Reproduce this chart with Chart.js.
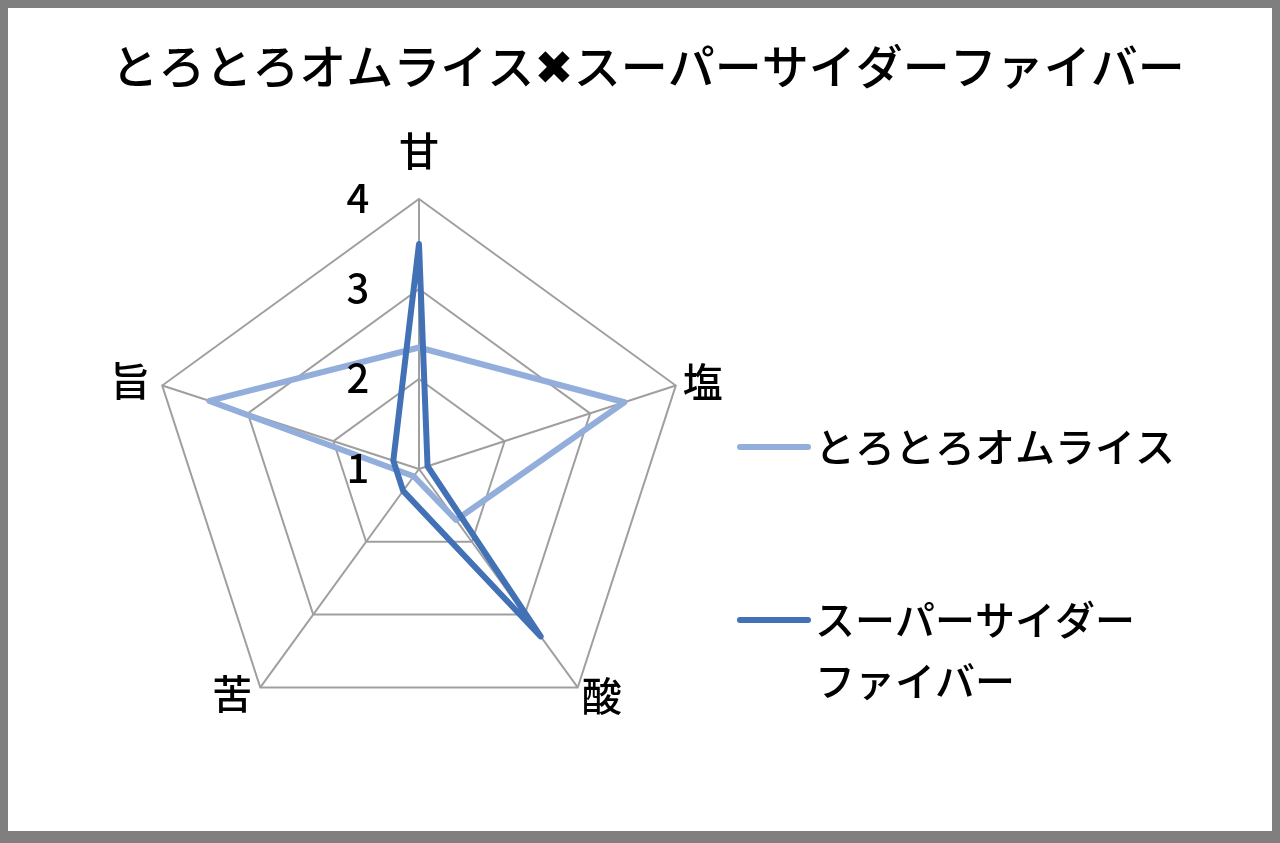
<!DOCTYPE html>
<html lang="ja">
<head>
<meta charset="utf-8">
<title>とろとろオムライス✖スーパーサイダーファイバー</title>
<script src="https://cdn.jsdelivr.net/npm/chart.js@4.4.1/dist/chart.umd.min.js"></script>
<style>
  html, body { margin: 0; padding: 0; background: #fff; }
  #wrap { position: relative; width: 1280px; height: 843px; }
  #frame {
    position: absolute; left: 0; top: 0; right: 0; bottom: 0;
    border-style: solid; border-color: #7f7f7f; border-width: 8px 8px 12px 8px;
    box-sizing: border-box; pointer-events: none;
  }
  canvas { position: absolute; left: 0; top: 0; }
</style>
</head>
<body>
<div id="wrap">
  <canvas id="myChart"></canvas>
  <div id="frame"></div>
</div>
<script>
const titleText = 'とろとろオムライス✖スーパーサイダーファイバー';
const categories = ['甘', '塩', '酸', '苦', '旨'];
const seriesNames = ['とろとろオムライス', 'スーパーサイダーファイバー'];
const omuriceValues = [2.35, 3.4, 1.7, 1.1, 3.45];
const ciderValues = [3.5, 1.1, 3.3, 1.3, 1.3];
const tickLabels = [1, 2, 3, 4];
// legend lines as wrapped in the picture
const legendText = [['とろとろオムライス'], ['スーパーサイダー', 'ファイバー']];

const FONT = "'Noto Sans CJK JP', 'DejaVu Sans', sans-serif";
const LIGHT = '#93aedb';
const DARK = '#4271b6';
const GRID = '#9f9f9f';

// title, tick labels, point labels and legend drawn on the canvas
const labelPlugin = {
  id: 'labelPlugin',
  afterDraw(chart) {
    const ctx = chart.ctx;
    const r = chart.scales.r;
    ctx.save();
    ctx.fillStyle = '#000';
    ctx.textBaseline = 'middle';

    ctx.font = '500 47px ' + FONT;
    ctx.textAlign = 'center';
    ctx.fillText(titleText, 648, 66);

    ctx.font = '500 40px ' + FONT;
    tickLabels.forEach(v => {
      ctx.fillText(String(v), r.xCenter - 61, r.yCenter - r.getDistanceFromCenterForValue(v) - 1);
    });

    chart.data.labels.forEach((lab, i) => {
      const p = r.getPointPosition(i, r.drawingArea);
      const dx = p.x - r.xCenter;
      const below = p.y > r.yCenter;
      if (Math.abs(dx) < 1) {
        ctx.textAlign = 'center';
        ctx.fillText(lab, p.x, p.y - 48);
      } else if (dx > 0) {
        ctx.textAlign = 'left';
        ctx.fillText(lab, p.x + (below ? 4 : 7), p.y + (below ? 8 : -4));
      } else {
        ctx.textAlign = 'right';
        ctx.fillText(lab, p.x - (below ? 8 : 12), p.y + (below ? 6 : -5));
      }
    });

    // legend
    const rows = [447, 620];
    chart.data.datasets.forEach((ds, i) => {
      const y = rows[i];
      ctx.strokeStyle = ds.borderColor;
      ctx.lineWidth = 6;
      ctx.lineCap = 'round';
      ctx.beginPath();
      ctx.moveTo(740, y);
      ctx.lineTo(808, y);
      ctx.stroke();
      ctx.textAlign = 'left';
      legendText[i].forEach((line, k) => {
        ctx.fillText(line, 815, y + k * 61);
      });
    });
    ctx.restore();
  }
};

const ctx = document.getElementById('myChart');

new Chart(ctx, {
  type: 'radar',
  data: {
    labels: categories,
    datasets: [{
      label: seriesNames[0],
      data: omuriceValues,
      borderColor: LIGHT,
      backgroundColor: LIGHT,
      borderWidth: 6,
      borderJoinStyle: 'round',
      pointRadius: 0,
      fill: false,
      order: 1
    }, {
      label: seriesNames[1],
      data: ciderValues,
      borderColor: DARK,
      backgroundColor: DARK,
      borderWidth: 6,
      borderJoinStyle: 'round',
      pointRadius: 0,
      fill: false,
      order: 0
    }]
  },
  options: {
    responsive: true,
    maintainAspectRatio: false,
    animation: false,
    layout: {
      padding: { left: 149, right: 591, top: 199, bottom: 104 }
    },
    plugins: {
      legend: { display: false },
      title: { display: false },
      tooltip: { enabled: false }
    },
    scales: {
      r: {
        min: 1,
        max: 4,
        ticks: { stepSize: 1, display: false },
        grid: { color: GRID, lineWidth: 2 },
        angleLines: { color: GRID, lineWidth: 2 },
        pointLabels: { display: false }
      }
    }
  },
  plugins: [labelPlugin]
});
</script>
</body>
</html>
